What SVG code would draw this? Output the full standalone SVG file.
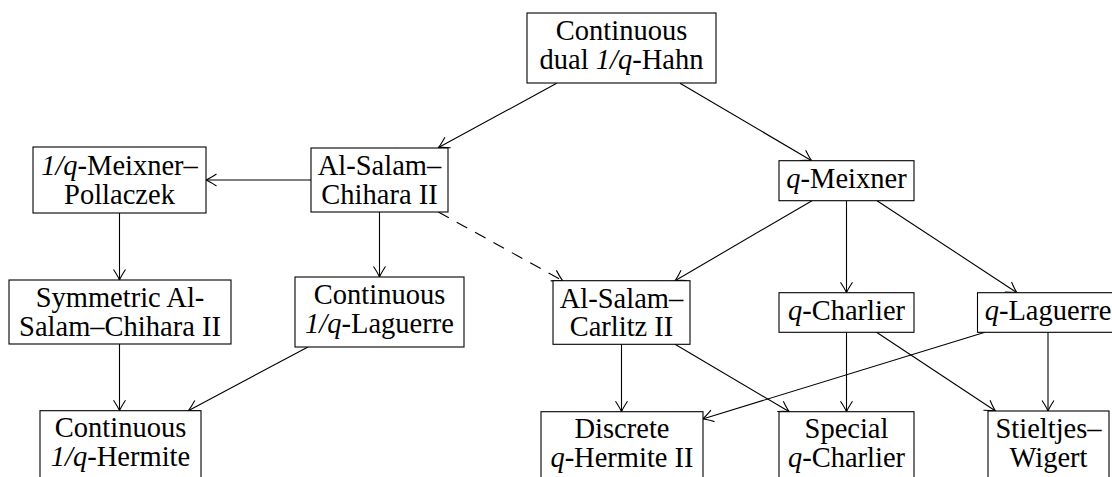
<svg xmlns="http://www.w3.org/2000/svg" width="1112" height="477" viewBox="0 0 1112 477" font-family="Liberation Serif">
<style>
  .box { fill: #fff; stroke: #000; stroke-width: 1.1; }
  .t { font-size: 28.5px; fill: #000; text-anchor: middle; }
  .i { font-style: italic; }
  .e { fill: none; stroke: #000; stroke-width: 1.1; marker-end: url(#arr); }
  .d { stroke-dasharray: 12 9; }
</style>
<defs>
  <marker id="arr" viewBox="-12 -8 14 16" refX="0" refY="0" markerWidth="14" markerHeight="16" orient="auto" markerUnits="userSpaceOnUse">
    <path d="M-10.5,-6 Q-3.5,-1.4 0,0 Q-3.5,1.4 -10.5,6" fill="none" stroke="#000" stroke-width="1.1"/>
  </marker>
</defs>
<rect width="1112" height="477" fill="#fff"/>
<g id="connectors">
  <line class="e" x1="556.7" y1="83.3" x2="438.5" y2="147.5"/>
  <line class="e" x1="680" y1="83.3" x2="811.7" y2="160.7"/>
  <line class="e" x1="311" y1="180" x2="206" y2="180"/>
  <line class="e" x1="119.5" y1="213" x2="119.5" y2="280"/>
  <line class="e" x1="379.5" y1="212" x2="379.5" y2="277"/>
  <line class="e d" x1="438.3" y1="212" x2="562.7" y2="280.7"/>
  <line class="e" x1="119.5" y1="344" x2="119.5" y2="410.7"/>
  <line class="e" x1="308" y1="347" x2="188.3" y2="410.7"/>
  <line class="e" x1="812" y1="200.7" x2="675" y2="280.7"/>
  <line class="e" x1="846.5" y1="200.7" x2="846.5" y2="292.7"/>
  <line class="e" x1="877" y1="200.7" x2="1017" y2="292.7"/>
  <line class="e" x1="621.5" y1="344.3" x2="621.5" y2="411.7"/>
  <line class="e" x1="675" y1="344.3" x2="789.3" y2="411.7"/>
  <line class="e" x1="846.5" y1="332.3" x2="846.5" y2="411.7"/>
  <line class="e" x1="876.5" y1="332.3" x2="995.5" y2="411"/>
  <line class="e" x1="985" y1="332.3" x2="702.7" y2="419"/>
  <line class="e" x1="1048" y1="332.3" x2="1048" y2="411"/>
</g>
<g id="n-cont-dual-hahn" font-family="Liberation Serif">
  <rect class="box" x="527" y="13" width="189" height="70"/>
  <text class="t" x="621.5" y="40">Continuous</text>
  <text class="t" x="621.5" y="69">dual <tspan class="i">1/q</tspan>-Hahn</text>
</g>
<g id="n-asc2" font-family="Liberation Serif">
  <rect class="box" x="311" y="148" width="137" height="64"/>
  <text class="t" x="379.5" y="175">Al-Salam–</text>
  <text class="t" x="379.5" y="204">Chihara II</text>
</g>
<g id="n-mp" font-family="Liberation Serif">
  <rect class="box" x="33" y="147" width="173" height="66"/>
  <text class="t" x="119.5" y="175"><tspan class="i">1/q</tspan>-Meixner–</text>
  <text class="t" x="119.5" y="204">Pollaczek</text>
</g>
<g id="n-qmeixner" font-family="Liberation Serif">
  <rect class="box" x="779" y="160.7" width="135" height="40"/>
  <text class="t" x="846.5" y="188"><tspan class="i">q</tspan>-Meixner</text>
</g>
<g id="n-sym-asc2" font-family="Liberation Serif">
  <rect class="box" x="9" y="280" width="222" height="64"/>
  <text class="t" x="120" y="307">Symmetric Al-</text>
  <text class="t" x="120" y="336">Salam–Chihara II</text>
</g>
<g id="n-cont-laguerre" font-family="Liberation Serif">
  <rect class="box" x="295" y="277" width="169" height="70"/>
  <text class="t" x="379.5" y="303.5">Continuous</text>
  <text class="t" x="379.5" y="332.5"><tspan class="i">1/q</tspan>-Laguerre</text>
</g>
<g id="n-carlitz2" font-family="Liberation Serif">
  <rect class="box" x="553" y="280.7" width="137" height="63.6"/>
  <text class="t" x="621.5" y="307.5">Al-Salam–</text>
  <text class="t" x="621.5" y="336.3">Carlitz II</text>
</g>
<g id="n-qcharlier" font-family="Liberation Serif">
  <rect class="box" x="779" y="292.7" width="135" height="39.6"/>
  <text class="t" x="846.5" y="319.5"><tspan class="i">q</tspan>-Charlier</text>
</g>
<g id="n-qlaguerre" font-family="Liberation Serif">
  <rect class="box" x="977.5" y="292.7" width="141" height="39.6"/>
  <text class="t" x="1048" y="319.5"><tspan class="i">q</tspan>-Laguerre</text>
</g>
<g id="n-cont-hermite" font-family="Liberation Serif">
  <rect class="box" x="40" y="410.7" width="161" height="70"/>
  <text class="t" x="120.5" y="437">Continuous</text>
  <text class="t" x="120.5" y="466"><tspan class="i">1/q</tspan>-Hermite</text>
</g>
<g id="n-discrete-hermite2" font-family="Liberation Serif">
  <rect class="box" x="541" y="411.7" width="162" height="70"/>
  <text class="t" x="622" y="438">Discrete</text>
  <text class="t" x="622" y="467"><tspan class="i">q</tspan>-Hermite II</text>
</g>
<g id="n-special-charlier" font-family="Liberation Serif">
  <rect class="box" x="779" y="411.7" width="135" height="70"/>
  <text class="t" x="846.5" y="438">Special</text>
  <text class="t" x="846.5" y="467"><tspan class="i">q</tspan>-Charlier</text>
</g>
<g id="n-stieltjes" font-family="Liberation Serif">
  <rect class="box" x="988" y="411" width="121" height="70"/>
  <text class="t" x="1048.5" y="438">Stieltjes–</text>
  <text class="t" x="1048.5" y="467">Wigert</text>
</g>
</svg>
